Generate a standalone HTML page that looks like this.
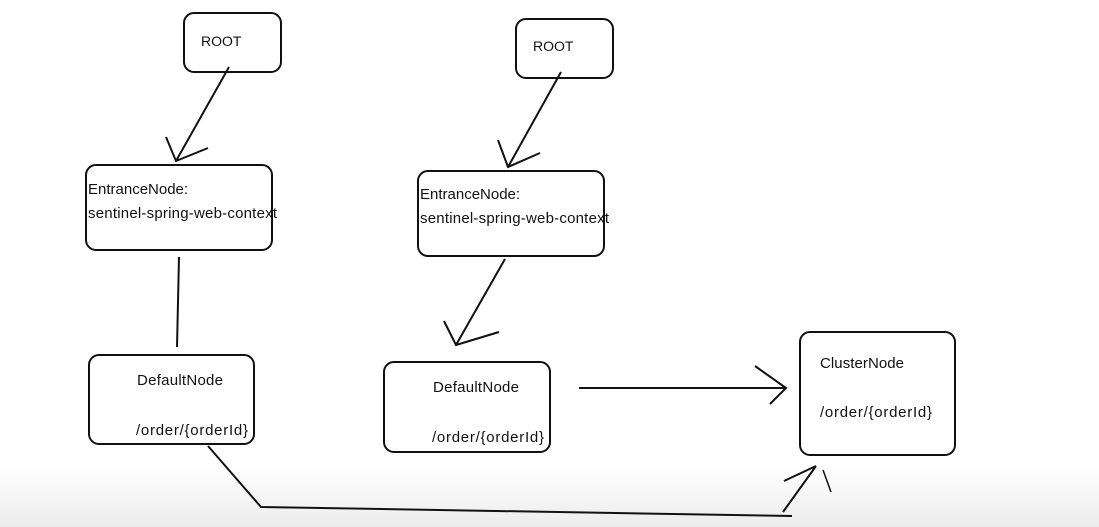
<!DOCTYPE html>
<html><head><style>
html,body{margin:0;padding:0;background:#fff;}
svg{display:block;}
text{font-family:"Liberation Sans","DejaVu Sans",sans-serif;font-size:15px;fill:#111;}
</style></head><body>
<svg width="1099" height="527" viewBox="0 0 1099 527">
<defs><linearGradient id="g" x1="0" y1="0" x2="0" y2="1"><stop offset="0" stop-color="#fff"/><stop offset="1" stop-color="#ececec"/></linearGradient></defs>
<rect x="0" y="0" width="1099" height="527" fill="#fff"/>
<rect x="0" y="465" width="1099" height="62" fill="url(#g)"/>
<g fill="none" stroke="#111" stroke-width="2">
<rect x="184" y="13" width="97" height="59" rx="10"/>
<rect x="516" y="19" width="97" height="59" rx="10"/>
<rect x="86" y="165" width="186" height="85" rx="10"/>
<rect x="418" y="171" width="186" height="85" rx="10"/>
<rect x="89" y="355" width="165" height="89" rx="10"/>
<rect x="384" y="362" width="166" height="90" rx="10"/>
<rect x="800" y="332" width="155" height="123" rx="10"/>
<path d="M229 67 L176 161 M166 137 L176 161 L208 148"/>
<path d="M561 72 L508 167 M498 140 L508 167 L540 153"/>
<path d="M177 347 L179 257"/>
<path d="M505 259 L456 345 M444 321 L456 345 L499 332"/>
<path d="M579 388 L785 388 M755 366 L786 388 L770 404"/>
<path d="M208 446 L261 507 L792 516"/>
<path d="M783 512 L816 466 M784 481 L816 466"/>
<path d="M823 470 L831 492" stroke-width="1.5"/>
</g>
<text x="201" y="46" style="font-size:14px">ROOT</text>
<text x="533" y="51" style="font-size:14px">ROOT</text>
<text x="88" y="194">EntranceNode:</text>
<text x="88" y="218" textLength="189">sentinel-spring-web-context</text>
<text x="420" y="199">EntranceNode:</text>
<text x="420" y="223" textLength="189">sentinel-spring-web-context</text>
<text x="137" y="385" textLength="86">DefaultNode</text>
<text x="136" y="435" textLength="112">/order/{orderId}</text>
<text x="433" y="392" textLength="86">DefaultNode</text>
<text x="432" y="442" textLength="112">/order/{orderId}</text>
<text x="820" y="368" textLength="84">ClusterNode</text>
<text x="820" y="417" textLength="112">/order/{orderId}</text>
</svg>
</body></html>
